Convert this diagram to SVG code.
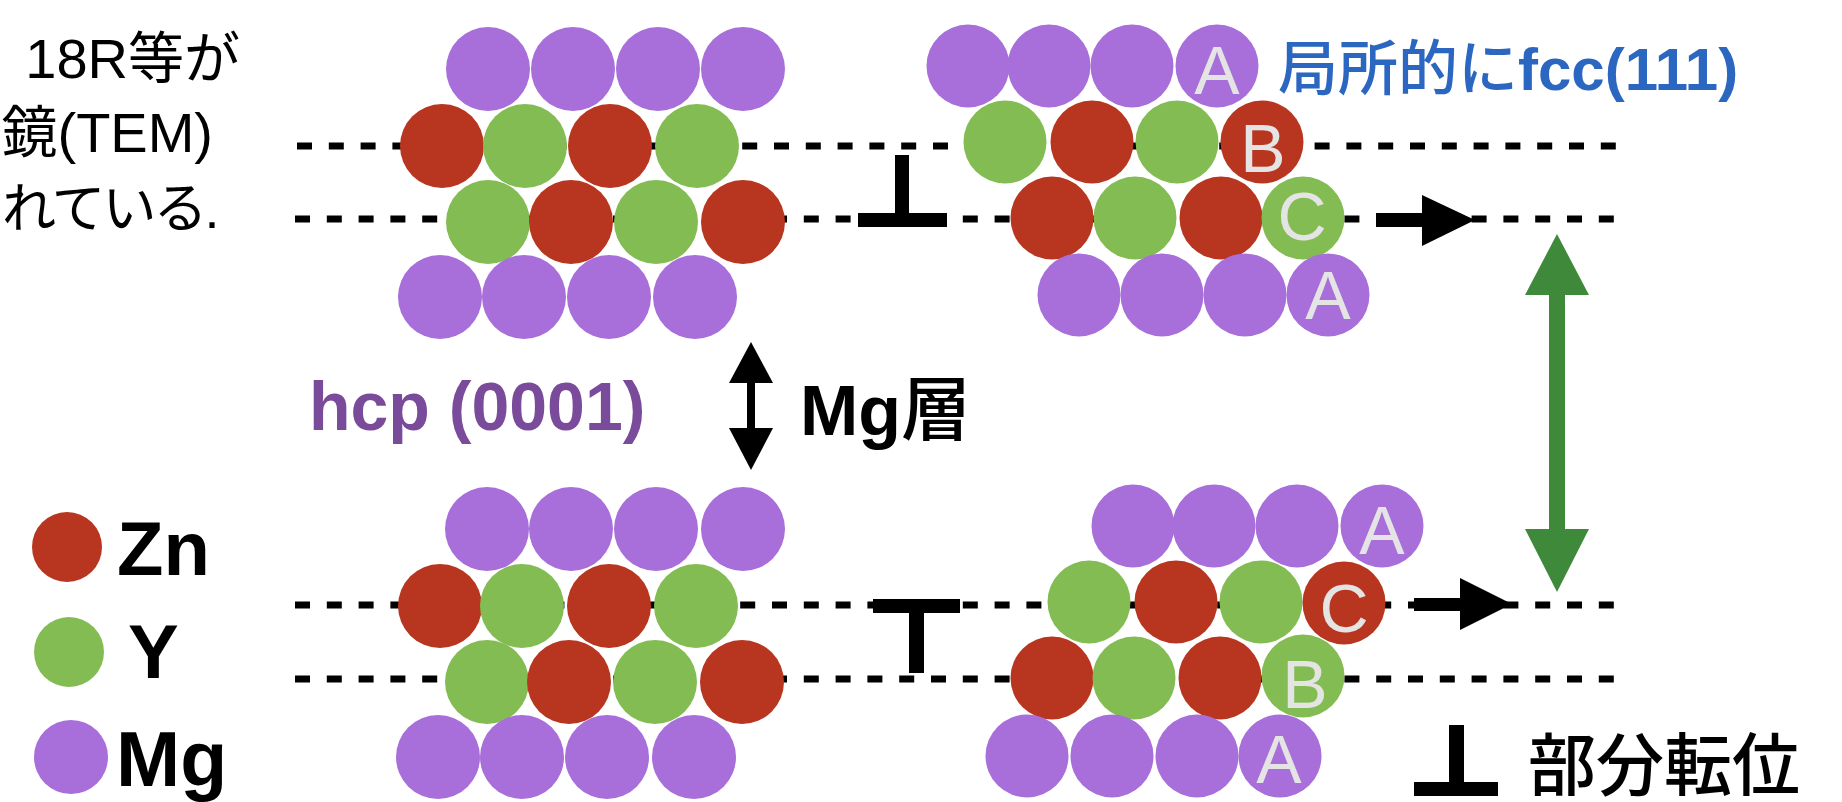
<svg xmlns="http://www.w3.org/2000/svg" width="1842" height="802" viewBox="0 0 1842 802">
  <style>
    .mg { fill: #a86eda; }
    .zn { fill: #b8351f; }
    .y  { fill: #84bc54; }
    .dash { fill: none; stroke: #000; stroke-width: 7; stroke-dasharray: 15 16.8; }
    .lab { font-family: "Liberation Sans", Arial, sans-serif; font-size: 68px; fill: #e4e4e4; text-anchor: middle; }
    .jp { font-family: "Liberation Sans", "Noto Sans CJK JP", sans-serif; }
    .bold { font-weight: bold; }
  </style>

  <!-- caption text at the left edge -->
  <g id="caption" class="jp" font-size="56" fill="#000">
    <text x="240" y="78" text-anchor="end">18R等が</text>
    <text x="213" y="152" text-anchor="end">鏡(TEM)</text>
    <text x="2" y="228" font-size="54" letter-spacing="-3">れている.</text>
  </g>

  <!-- slip planes -->
  <g id="planes" class="dash">
    <path d="M297 146 H1620"/>
    <path d="M295 219 H1620"/>
    <path d="M295 605 H1620"/>
    <path d="M295 679 H1620"/>
  </g>

  <!-- hcp (0001) stacking, upper -->
  <g id="hcp-upper">
    <circle class="mg" cx="488" cy="69" r="42"/>
    <circle class="mg" cx="573" cy="69" r="42"/>
    <circle class="mg" cx="658" cy="69" r="42"/>
    <circle class="mg" cx="743" cy="69" r="42"/>
    <circle class="zn" cx="442" cy="146" r="42"/>
    <circle class="y"  cx="525" cy="146" r="42"/>
    <circle class="zn" cx="610" cy="146" r="42"/>
    <circle class="y"  cx="697" cy="146" r="42"/>
    <circle class="y"  cx="488" cy="222" r="42"/>
    <circle class="zn" cx="571" cy="222" r="42"/>
    <circle class="y"  cx="656" cy="222" r="42"/>
    <circle class="zn" cx="743" cy="222" r="42"/>
    <circle class="mg" cx="440" cy="297" r="42"/>
    <circle class="mg" cx="524" cy="297" r="42"/>
    <circle class="mg" cx="609" cy="297" r="42"/>
    <circle class="mg" cx="695" cy="297" r="42"/>
  </g>

  <!-- hcp (0001) stacking, lower -->
  <g id="hcp-lower">
    <circle class="mg" cx="487" cy="529" r="42"/>
    <circle class="mg" cx="571" cy="529" r="42"/>
    <circle class="mg" cx="656" cy="529" r="42"/>
    <circle class="mg" cx="743" cy="529" r="42"/>
    <circle class="zn" cx="440" cy="606" r="42"/>
    <circle class="y"  cx="522" cy="606" r="42"/>
    <circle class="zn" cx="609" cy="606" r="42"/>
    <circle class="y"  cx="696" cy="606" r="42"/>
    <circle class="y"  cx="487" cy="682" r="42"/>
    <circle class="zn" cx="569" cy="682" r="42"/>
    <circle class="y"  cx="655" cy="682" r="42"/>
    <circle class="zn" cx="742" cy="682" r="42"/>
    <circle class="mg" cx="438" cy="757" r="42"/>
    <circle class="mg" cx="522" cy="757" r="42"/>
    <circle class="mg" cx="607" cy="757" r="42"/>
    <circle class="mg" cx="694" cy="757" r="42"/>
  </g>

  <!-- local fcc stacking ABCA, upper -->
  <g id="fcc-upper">
    <circle class="mg" cx="968"  cy="66" r="41.5"/>
    <circle class="mg" cx="1049" cy="66" r="41.5"/>
    <circle class="mg" cx="1132" cy="66" r="41.5"/>
    <circle class="mg" cx="1217" cy="66" r="41.5"/>
    <circle class="y"  cx="1005" cy="142" r="41.5"/>
    <circle class="zn" cx="1092" cy="142" r="41.5"/>
    <circle class="y"  cx="1177" cy="142" r="41.5"/>
    <circle class="zn" cx="1262" cy="142" r="41.5"/>
    <circle class="zn" cx="1052" cy="218" r="41.5"/>
    <circle class="y"  cx="1135" cy="218" r="41.5"/>
    <circle class="zn" cx="1221" cy="218" r="41.5"/>
    <circle class="y"  cx="1303" cy="218" r="41.5"/>
    <circle class="mg" cx="1079" cy="295" r="41.5"/>
    <circle class="mg" cx="1162" cy="295" r="41.5"/>
    <circle class="mg" cx="1245" cy="295" r="41.5"/>
    <circle class="mg" cx="1328" cy="295" r="41.5"/>
    <text class="lab" x="1217" y="94">A</text>
    <text class="lab" x="1263" y="172">B</text>
    <text class="lab" x="1302" y="240">C</text>
    <text class="lab" x="1328" y="319">A</text>
  </g>

  <!-- local fcc stacking ACBA, lower -->
  <g id="fcc-lower">
    <circle class="mg" cx="1133" cy="526" r="41.5"/>
    <circle class="mg" cx="1214" cy="526" r="41.5"/>
    <circle class="mg" cx="1297" cy="526" r="41.5"/>
    <circle class="mg" cx="1382" cy="526" r="41.5"/>
    <circle class="y"  cx="1089" cy="602" r="41.5"/>
    <circle class="zn" cx="1176" cy="602" r="41.5"/>
    <circle class="y"  cx="1261" cy="602" r="41.5"/>
    <circle class="zn" cx="1344" cy="603" r="41.5"/>
    <circle class="zn" cx="1052" cy="678" r="41.5"/>
    <circle class="y"  cx="1134" cy="678" r="41.5"/>
    <circle class="zn" cx="1220" cy="678" r="41.5"/>
    <circle class="y"  cx="1303" cy="676" r="41.5"/>
    <circle class="mg" cx="1027" cy="756" r="41.5"/>
    <circle class="mg" cx="1112" cy="756" r="41.5"/>
    <circle class="mg" cx="1197" cy="756" r="41.5"/>
    <circle class="mg" cx="1280" cy="756" r="41.5"/>
    <text class="lab" x="1382" y="554">A</text>
    <text class="lab" x="1344" y="632">C</text>
    <text class="lab" x="1305" y="708">B</text>
    <text class="lab" x="1279" y="783">A</text>
  </g>

  <!-- partial dislocation symbols -->
  <g id="dislocation-upper" fill="#000">
    <rect x="895" y="155" width="14" height="66"/>
    <rect x="858" y="213" width="89" height="14"/>
  </g>
  <g id="dislocation-lower" fill="#000">
    <rect x="873" y="599" width="87" height="14"/>
    <rect x="909" y="606" width="15" height="67"/>
  </g>

  <!-- connectors: glide arrows and layer spacing arrows -->
  <g id="connectors">
    <rect x="1376" y="213" width="48" height="14" fill="#000"/>
    <polygon points="1422,195 1475,220 1422,246" fill="#000"/>
    <rect x="1414" y="598" width="48" height="13" fill="#000"/>
    <polygon points="1460,578 1512,604 1460,630" fill="#000"/>
    <rect x="1549" y="290" width="16" height="244" fill="#3e8a3a"/>
    <polygon points="1557,234 1589,295 1525,295" fill="#3e8a3a"/>
    <polygon points="1557,592 1589,529 1525,529" fill="#3e8a3a"/>
    <rect x="747" y="380" width="8" height="51" fill="#000"/>
    <polygon points="751,342 773,383 729,383" fill="#000"/>
    <polygon points="751,470 773,428 729,428" fill="#000"/>
  </g>

  <!-- labels -->
  <g id="label-fcc">
    <text x="1278" y="90" font-size="60" fill="#2b67c1" class="jp"><tspan font-weight="500">局所的に</tspan><tspan class="bold">fcc(111)</tspan></text>
  </g>
  <g id="label-hcp">
    <text x="309" y="430" font-size="68" fill="#7a4a9b" class="jp bold">hcp (0001)</text>
  </g>
  <g id="label-mg-layer">
    <text x="800" y="435" font-size="70" fill="#000" class="jp"><tspan class="bold">Mg</tspan><tspan font-weight="500">層</tspan></text>
  </g>

  <!-- element legend -->
  <g id="legend">
    <circle class="zn" cx="67" cy="547" r="35"/>
    <circle class="y"  cx="69" cy="652" r="35"/>
    <circle class="mg" cx="71" cy="757" r="37"/>
    <text x="117" y="575" font-size="76" class="jp bold">Zn</text>
    <text x="128" y="678" font-size="76" class="jp bold">Y</text>
    <text x="116" y="786" font-size="77" class="jp bold">Mg</text>
  </g>

  <!-- symbol key -->
  <g id="legend-dislocation">
    <rect x="1449" y="725" width="15" height="60" fill="#000"/>
    <rect x="1414" y="782" width="84" height="14" fill="#000"/>
    <text x="1528" y="790" font-size="68" font-weight="500" class="jp">部分転位</text>
  </g>
</svg>
